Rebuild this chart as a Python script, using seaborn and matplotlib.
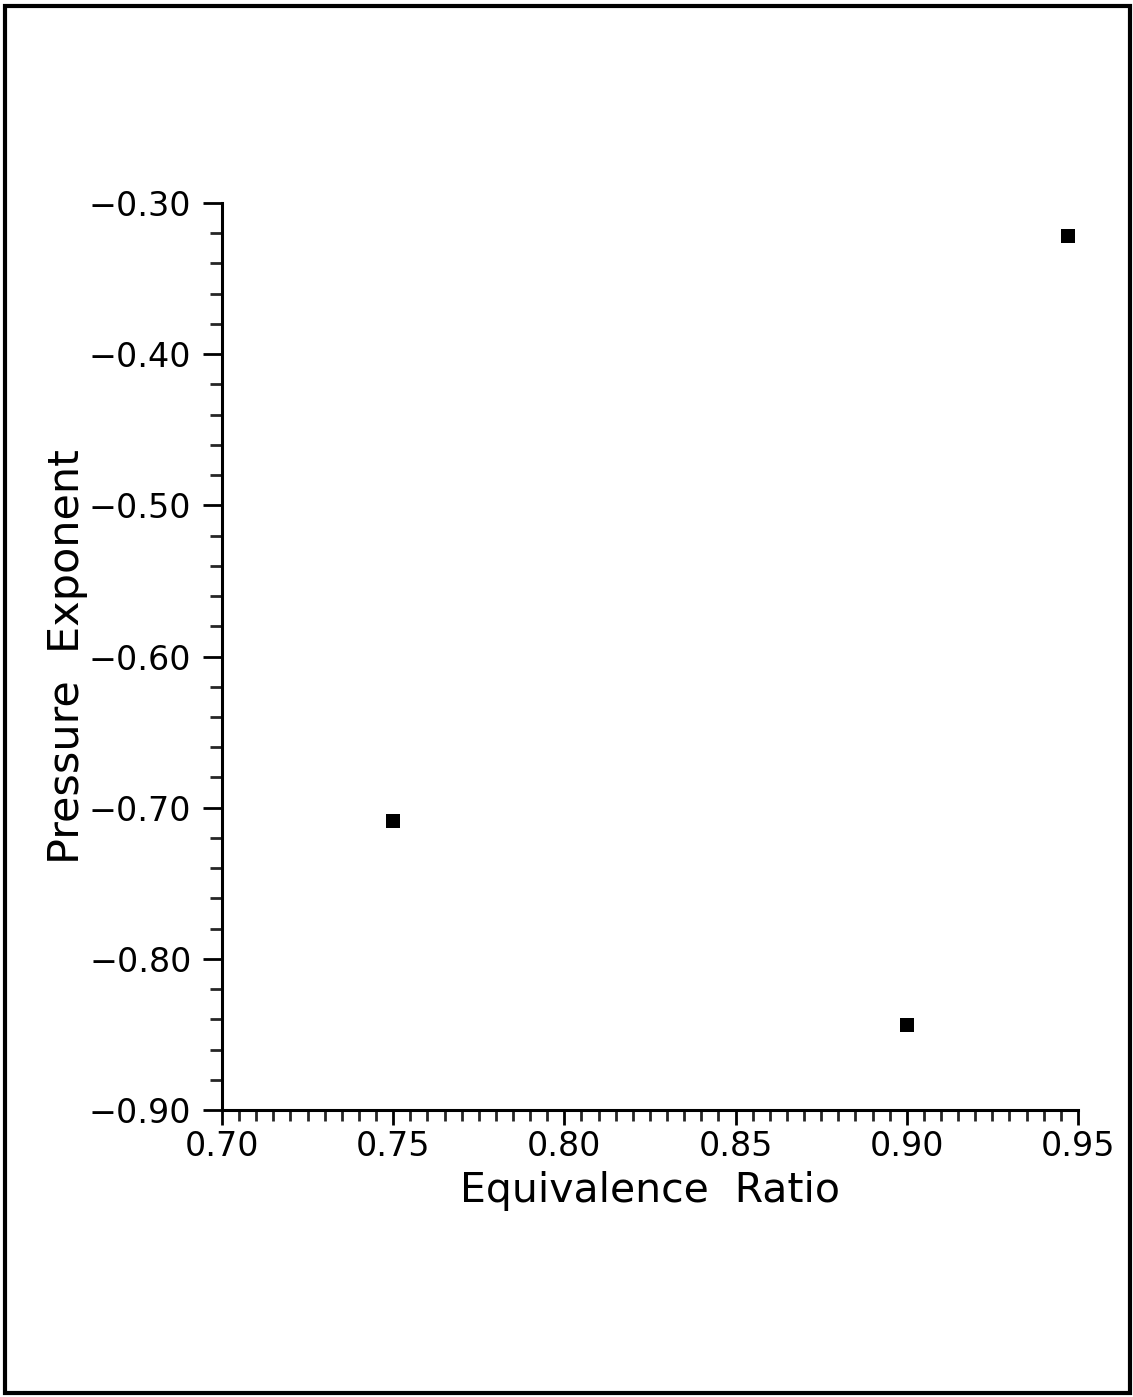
import matplotlib
matplotlib.use("Agg")
import matplotlib.pyplot as plt
import seaborn as sns
import pandas as pd
import numpy as np
from matplotlib.ticker import MultipleLocator, FuncFormatter
from matplotlib.patches import Rectangle

equivalence_ratio = [0.75, 0.90, 0.947]
pressure_exponent = [-0.709, -0.844, -0.322]

x_major = [0.70, 0.75, 0.80, 0.85, 0.90, 0.95]
y_major = [-0.90, -0.80, -0.70, -0.60, -0.50, -0.40, -0.30]

sns.set_style("ticks")
plt.rcParams['font.family'] = ['DejaVu Sans']
plt.rcParams['text.color'] = 'black'
plt.rcParams['axes.labelcolor'] = 'black'

df = pd.DataFrame({"Equivalence Ratio": equivalence_ratio,
                   "Pressure Exponent": pressure_exponent})

fig = plt.figure(figsize=(11.33, 13.97), dpi=100)
ax = fig.add_axes([0.1959, 0.2054, 0.7555, 0.6493])

sns.scatterplot(data=df, x="Equivalence Ratio", y="Pressure Exponent", ax=ax,
                marker="s", s=100, color="black", edgecolor="black", linewidth=0)

fmt = FuncFormatter(lambda v, p: f"{v:.2f}".replace("-", "\u2212"))

ax.set_xlim(0.70, 0.95)
ax.set_ylim(-0.90, -0.30)
ax.set_xticks(x_major)
ax.set_yticks(y_major)
ax.xaxis.set_minor_locator(MultipleLocator(0.005))
ax.yaxis.set_minor_locator(MultipleLocator(0.02))
ax.xaxis.set_major_formatter(fmt)
ax.yaxis.set_major_formatter(fmt)

for s in ["top", "right"]:
    ax.spines[s].set_visible(False)
for s in ["left", "bottom"]:
    ax.spines[s].set_linewidth(2.2)
    ax.spines[s].set_color("black")

ax.tick_params(axis="y", which="major", length=14, width=2, direction="out",
               labelsize=24, pad=8, colors="black")
ax.tick_params(axis="y", which="minor", length=9, width=2, direction="out")
ax.tick_params(axis="x", which="major", length=11, width=2, direction="out",
               labelsize=24, pad=3, colors="black")
ax.tick_params(axis="x", which="minor", length=8, width=2, direction="out")

ax.set_xlabel("Equivalence  Ratio", fontsize=29.5, labelpad=6, color="black")
ax.set_ylabel("Pressure  Exponent", fontsize=31, labelpad=1, color="black")

fig.patches.append(Rectangle((0.004, 0.003), 0.993, 0.993, transform=fig.transFigure,
                             fill=False, edgecolor="black", linewidth=3))

fig.savefig("out.png", dpi=100, facecolor="white")
